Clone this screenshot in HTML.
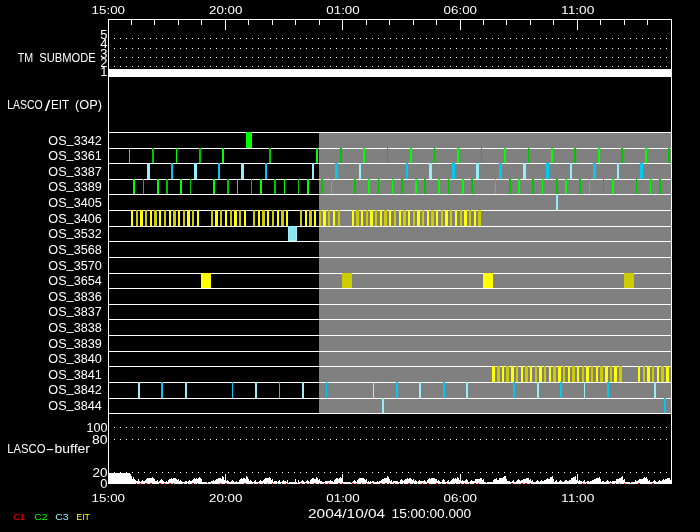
<!DOCTYPE html>
<html>
<head>
<meta charset="utf-8">
<title>LASCO/EIT schedule 2004/10/04</title>
<style>
html,body{margin:0;padding:0;background:#000;}
body{width:700px;height:532px;overflow:hidden;}
svg{display:block;}
text{font-family:"Liberation Sans",sans-serif;}
</style>
</head>
<body>
<svg width="700" height="532" viewBox="0 0 700 532">
<rect x="0" y="0" width="700" height="532" fill="#000"/>
<g shape-rendering="crispEdges">
<rect x="319" y="132" width="352" height="281" fill="#808080"/>
<rect x="109" y="69" width="562" height="8" fill="#fff"/>
<rect x="108" y="132" width="563" height="1" fill="#fff"/>
<rect x="108" y="148" width="563" height="1" fill="#fff"/>
<rect x="108" y="163" width="563" height="1" fill="#fff"/>
<rect x="108" y="179" width="563" height="1" fill="#fff"/>
<rect x="108" y="194" width="563" height="1" fill="#fff"/>
<rect x="108" y="210" width="563" height="1" fill="#fff"/>
<rect x="108" y="226" width="563" height="1" fill="#fff"/>
<rect x="108" y="241" width="563" height="1" fill="#fff"/>
<rect x="108" y="257" width="563" height="1" fill="#fff"/>
<rect x="108" y="273" width="563" height="1" fill="#fff"/>
<rect x="108" y="288" width="563" height="1" fill="#fff"/>
<rect x="108" y="304" width="563" height="1" fill="#fff"/>
<rect x="108" y="319" width="563" height="1" fill="#fff"/>
<rect x="108" y="335" width="563" height="1" fill="#fff"/>
<rect x="108" y="351" width="563" height="1" fill="#fff"/>
<rect x="108" y="366" width="563" height="1" fill="#fff"/>
<rect x="108" y="382" width="563" height="1" fill="#fff"/>
<rect x="108" y="398" width="563" height="1" fill="#fff"/>
<rect x="108" y="413" width="563" height="1" fill="#fff"/>
<rect x="108" y="19" width="1" height="465" fill="#fff"/>
<rect x="671" y="19" width="1" height="465" fill="#fff"/>
<rect x="108" y="19" width="564" height="1" fill="#fff"/>
<rect x="108" y="483" width="564" height="1" fill="#fff"/>
<rect x="131" y="19" width="1" height="6" fill="#fff"/>
<rect x="131" y="479" width="1" height="5" fill="#fff"/>
<rect x="154" y="19" width="1" height="6" fill="#fff"/>
<rect x="154" y="479" width="1" height="5" fill="#fff"/>
<rect x="178" y="19" width="1" height="6" fill="#fff"/>
<rect x="178" y="479" width="1" height="5" fill="#fff"/>
<rect x="201" y="19" width="1" height="6" fill="#fff"/>
<rect x="201" y="479" width="1" height="5" fill="#fff"/>
<rect x="225" y="19" width="1" height="11" fill="#fff"/>
<rect x="225" y="474" width="1" height="10" fill="#fff"/>
<rect x="248" y="19" width="1" height="6" fill="#fff"/>
<rect x="248" y="479" width="1" height="5" fill="#fff"/>
<rect x="272" y="19" width="1" height="6" fill="#fff"/>
<rect x="272" y="479" width="1" height="5" fill="#fff"/>
<rect x="295" y="19" width="1" height="6" fill="#fff"/>
<rect x="295" y="479" width="1" height="5" fill="#fff"/>
<rect x="319" y="19" width="1" height="6" fill="#fff"/>
<rect x="319" y="479" width="1" height="5" fill="#fff"/>
<rect x="342" y="19" width="1" height="11" fill="#fff"/>
<rect x="342" y="474" width="1" height="10" fill="#fff"/>
<rect x="366" y="19" width="1" height="6" fill="#fff"/>
<rect x="366" y="479" width="1" height="5" fill="#fff"/>
<rect x="389" y="19" width="1" height="6" fill="#fff"/>
<rect x="389" y="479" width="1" height="5" fill="#fff"/>
<rect x="413" y="19" width="1" height="6" fill="#fff"/>
<rect x="413" y="479" width="1" height="5" fill="#fff"/>
<rect x="436" y="19" width="1" height="6" fill="#fff"/>
<rect x="436" y="479" width="1" height="5" fill="#fff"/>
<rect x="460" y="19" width="1" height="11" fill="#fff"/>
<rect x="460" y="474" width="1" height="10" fill="#fff"/>
<rect x="483" y="19" width="1" height="6" fill="#fff"/>
<rect x="483" y="479" width="1" height="5" fill="#fff"/>
<rect x="506" y="19" width="1" height="6" fill="#fff"/>
<rect x="506" y="479" width="1" height="5" fill="#fff"/>
<rect x="530" y="19" width="1" height="6" fill="#fff"/>
<rect x="530" y="479" width="1" height="5" fill="#fff"/>
<rect x="553" y="19" width="1" height="6" fill="#fff"/>
<rect x="553" y="479" width="1" height="5" fill="#fff"/>
<rect x="577" y="19" width="1" height="11" fill="#fff"/>
<rect x="577" y="474" width="1" height="10" fill="#fff"/>
<rect x="600" y="19" width="1" height="6" fill="#fff"/>
<rect x="600" y="479" width="1" height="5" fill="#fff"/>
<rect x="624" y="19" width="1" height="6" fill="#fff"/>
<rect x="624" y="479" width="1" height="5" fill="#fff"/>
<rect x="647" y="19" width="1" height="6" fill="#fff"/>
<rect x="647" y="479" width="1" height="5" fill="#fff"/>
<path d="M114 38h1v1h-1zM120 38h1v1h-1zM126 38h1v1h-1zM132 38h1v1h-1zM138 38h1v1h-1zM144 38h1v1h-1zM150 38h1v1h-1zM156 38h1v1h-1zM162 38h1v1h-1zM168 38h1v1h-1zM174 38h1v1h-1zM180 38h1v1h-1zM186 38h1v1h-1zM192 38h1v1h-1zM198 38h1v1h-1zM204 38h1v1h-1zM210 38h1v1h-1zM216 38h1v1h-1zM222 38h1v1h-1zM228 38h1v1h-1zM234 38h1v1h-1zM240 38h1v1h-1zM246 38h1v1h-1zM252 38h1v1h-1zM258 38h1v1h-1zM264 38h1v1h-1zM270 38h1v1h-1zM276 38h1v1h-1zM282 38h1v1h-1zM288 38h1v1h-1zM294 38h1v1h-1zM300 38h1v1h-1zM306 38h1v1h-1zM312 38h1v1h-1zM318 38h1v1h-1zM324 38h1v1h-1zM330 38h1v1h-1zM336 38h1v1h-1zM342 38h1v1h-1zM348 38h1v1h-1zM354 38h1v1h-1zM360 38h1v1h-1zM366 38h1v1h-1zM372 38h1v1h-1zM378 38h1v1h-1zM384 38h1v1h-1zM390 38h1v1h-1zM396 38h1v1h-1zM402 38h1v1h-1zM408 38h1v1h-1zM414 38h1v1h-1zM420 38h1v1h-1zM426 38h1v1h-1zM432 38h1v1h-1zM438 38h1v1h-1zM444 38h1v1h-1zM450 38h1v1h-1zM456 38h1v1h-1zM462 38h1v1h-1zM468 38h1v1h-1zM474 38h1v1h-1zM480 38h1v1h-1zM486 38h1v1h-1zM492 38h1v1h-1zM498 38h1v1h-1zM504 38h1v1h-1zM510 38h1v1h-1zM516 38h1v1h-1zM522 38h1v1h-1zM528 38h1v1h-1zM534 38h1v1h-1zM540 38h1v1h-1zM546 38h1v1h-1zM552 38h1v1h-1zM558 38h1v1h-1zM564 38h1v1h-1zM570 38h1v1h-1zM576 38h1v1h-1zM582 38h1v1h-1zM588 38h1v1h-1zM594 38h1v1h-1zM600 38h1v1h-1zM606 38h1v1h-1zM612 38h1v1h-1zM618 38h1v1h-1zM624 38h1v1h-1zM630 38h1v1h-1zM636 38h1v1h-1zM642 38h1v1h-1zM648 38h1v1h-1zM654 38h1v1h-1zM660 38h1v1h-1zM666 38h1v1h-1z" fill="#fff"/>
<path d="M114 48h1v1h-1zM120 48h1v1h-1zM126 48h1v1h-1zM132 48h1v1h-1zM138 48h1v1h-1zM144 48h1v1h-1zM150 48h1v1h-1zM156 48h1v1h-1zM162 48h1v1h-1zM168 48h1v1h-1zM174 48h1v1h-1zM180 48h1v1h-1zM186 48h1v1h-1zM192 48h1v1h-1zM198 48h1v1h-1zM204 48h1v1h-1zM210 48h1v1h-1zM216 48h1v1h-1zM222 48h1v1h-1zM228 48h1v1h-1zM234 48h1v1h-1zM240 48h1v1h-1zM246 48h1v1h-1zM252 48h1v1h-1zM258 48h1v1h-1zM264 48h1v1h-1zM270 48h1v1h-1zM276 48h1v1h-1zM282 48h1v1h-1zM288 48h1v1h-1zM294 48h1v1h-1zM300 48h1v1h-1zM306 48h1v1h-1zM312 48h1v1h-1zM318 48h1v1h-1zM324 48h1v1h-1zM330 48h1v1h-1zM336 48h1v1h-1zM342 48h1v1h-1zM348 48h1v1h-1zM354 48h1v1h-1zM360 48h1v1h-1zM366 48h1v1h-1zM372 48h1v1h-1zM378 48h1v1h-1zM384 48h1v1h-1zM390 48h1v1h-1zM396 48h1v1h-1zM402 48h1v1h-1zM408 48h1v1h-1zM414 48h1v1h-1zM420 48h1v1h-1zM426 48h1v1h-1zM432 48h1v1h-1zM438 48h1v1h-1zM444 48h1v1h-1zM450 48h1v1h-1zM456 48h1v1h-1zM462 48h1v1h-1zM468 48h1v1h-1zM474 48h1v1h-1zM480 48h1v1h-1zM486 48h1v1h-1zM492 48h1v1h-1zM498 48h1v1h-1zM504 48h1v1h-1zM510 48h1v1h-1zM516 48h1v1h-1zM522 48h1v1h-1zM528 48h1v1h-1zM534 48h1v1h-1zM540 48h1v1h-1zM546 48h1v1h-1zM552 48h1v1h-1zM558 48h1v1h-1zM564 48h1v1h-1zM570 48h1v1h-1zM576 48h1v1h-1zM582 48h1v1h-1zM588 48h1v1h-1zM594 48h1v1h-1zM600 48h1v1h-1zM606 48h1v1h-1zM612 48h1v1h-1zM618 48h1v1h-1zM624 48h1v1h-1zM630 48h1v1h-1zM636 48h1v1h-1zM642 48h1v1h-1zM648 48h1v1h-1zM654 48h1v1h-1zM660 48h1v1h-1zM666 48h1v1h-1z" fill="#fff"/>
<path d="M114 57h1v1h-1zM120 57h1v1h-1zM126 57h1v1h-1zM132 57h1v1h-1zM138 57h1v1h-1zM144 57h1v1h-1zM150 57h1v1h-1zM156 57h1v1h-1zM162 57h1v1h-1zM168 57h1v1h-1zM174 57h1v1h-1zM180 57h1v1h-1zM186 57h1v1h-1zM192 57h1v1h-1zM198 57h1v1h-1zM204 57h1v1h-1zM210 57h1v1h-1zM216 57h1v1h-1zM222 57h1v1h-1zM228 57h1v1h-1zM234 57h1v1h-1zM240 57h1v1h-1zM246 57h1v1h-1zM252 57h1v1h-1zM258 57h1v1h-1zM264 57h1v1h-1zM270 57h1v1h-1zM276 57h1v1h-1zM282 57h1v1h-1zM288 57h1v1h-1zM294 57h1v1h-1zM300 57h1v1h-1zM306 57h1v1h-1zM312 57h1v1h-1zM318 57h1v1h-1zM324 57h1v1h-1zM330 57h1v1h-1zM336 57h1v1h-1zM342 57h1v1h-1zM348 57h1v1h-1zM354 57h1v1h-1zM360 57h1v1h-1zM366 57h1v1h-1zM372 57h1v1h-1zM378 57h1v1h-1zM384 57h1v1h-1zM390 57h1v1h-1zM396 57h1v1h-1zM402 57h1v1h-1zM408 57h1v1h-1zM414 57h1v1h-1zM420 57h1v1h-1zM426 57h1v1h-1zM432 57h1v1h-1zM438 57h1v1h-1zM444 57h1v1h-1zM450 57h1v1h-1zM456 57h1v1h-1zM462 57h1v1h-1zM468 57h1v1h-1zM474 57h1v1h-1zM480 57h1v1h-1zM486 57h1v1h-1zM492 57h1v1h-1zM498 57h1v1h-1zM504 57h1v1h-1zM510 57h1v1h-1zM516 57h1v1h-1zM522 57h1v1h-1zM528 57h1v1h-1zM534 57h1v1h-1zM540 57h1v1h-1zM546 57h1v1h-1zM552 57h1v1h-1zM558 57h1v1h-1zM564 57h1v1h-1zM570 57h1v1h-1zM576 57h1v1h-1zM582 57h1v1h-1zM588 57h1v1h-1zM594 57h1v1h-1zM600 57h1v1h-1zM606 57h1v1h-1zM612 57h1v1h-1zM618 57h1v1h-1zM624 57h1v1h-1zM630 57h1v1h-1zM636 57h1v1h-1zM642 57h1v1h-1zM648 57h1v1h-1zM654 57h1v1h-1zM660 57h1v1h-1zM666 57h1v1h-1z" fill="#fff"/>
<path d="M114 66h1v1h-1zM120 66h1v1h-1zM126 66h1v1h-1zM132 66h1v1h-1zM138 66h1v1h-1zM144 66h1v1h-1zM150 66h1v1h-1zM156 66h1v1h-1zM162 66h1v1h-1zM168 66h1v1h-1zM174 66h1v1h-1zM180 66h1v1h-1zM186 66h1v1h-1zM192 66h1v1h-1zM198 66h1v1h-1zM204 66h1v1h-1zM210 66h1v1h-1zM216 66h1v1h-1zM222 66h1v1h-1zM228 66h1v1h-1zM234 66h1v1h-1zM240 66h1v1h-1zM246 66h1v1h-1zM252 66h1v1h-1zM258 66h1v1h-1zM264 66h1v1h-1zM270 66h1v1h-1zM276 66h1v1h-1zM282 66h1v1h-1zM288 66h1v1h-1zM294 66h1v1h-1zM300 66h1v1h-1zM306 66h1v1h-1zM312 66h1v1h-1zM318 66h1v1h-1zM324 66h1v1h-1zM330 66h1v1h-1zM336 66h1v1h-1zM342 66h1v1h-1zM348 66h1v1h-1zM354 66h1v1h-1zM360 66h1v1h-1zM366 66h1v1h-1zM372 66h1v1h-1zM378 66h1v1h-1zM384 66h1v1h-1zM390 66h1v1h-1zM396 66h1v1h-1zM402 66h1v1h-1zM408 66h1v1h-1zM414 66h1v1h-1zM420 66h1v1h-1zM426 66h1v1h-1zM432 66h1v1h-1zM438 66h1v1h-1zM444 66h1v1h-1zM450 66h1v1h-1zM456 66h1v1h-1zM462 66h1v1h-1zM468 66h1v1h-1zM474 66h1v1h-1zM480 66h1v1h-1zM486 66h1v1h-1zM492 66h1v1h-1zM498 66h1v1h-1zM504 66h1v1h-1zM510 66h1v1h-1zM516 66h1v1h-1zM522 66h1v1h-1zM528 66h1v1h-1zM534 66h1v1h-1zM540 66h1v1h-1zM546 66h1v1h-1zM552 66h1v1h-1zM558 66h1v1h-1zM564 66h1v1h-1zM570 66h1v1h-1zM576 66h1v1h-1zM582 66h1v1h-1zM588 66h1v1h-1zM594 66h1v1h-1zM600 66h1v1h-1zM606 66h1v1h-1zM612 66h1v1h-1zM618 66h1v1h-1zM624 66h1v1h-1zM630 66h1v1h-1zM636 66h1v1h-1zM642 66h1v1h-1zM648 66h1v1h-1zM654 66h1v1h-1zM660 66h1v1h-1zM666 66h1v1h-1z" fill="#fff"/>
<path d="M114 427h1v1h-1zM120 427h1v1h-1zM126 427h1v1h-1zM132 427h1v1h-1zM138 427h1v1h-1zM144 427h1v1h-1zM150 427h1v1h-1zM156 427h1v1h-1zM162 427h1v1h-1zM168 427h1v1h-1zM174 427h1v1h-1zM180 427h1v1h-1zM186 427h1v1h-1zM192 427h1v1h-1zM198 427h1v1h-1zM204 427h1v1h-1zM210 427h1v1h-1zM216 427h1v1h-1zM222 427h1v1h-1zM228 427h1v1h-1zM234 427h1v1h-1zM240 427h1v1h-1zM246 427h1v1h-1zM252 427h1v1h-1zM258 427h1v1h-1zM264 427h1v1h-1zM270 427h1v1h-1zM276 427h1v1h-1zM282 427h1v1h-1zM288 427h1v1h-1zM294 427h1v1h-1zM300 427h1v1h-1zM306 427h1v1h-1zM312 427h1v1h-1zM318 427h1v1h-1zM324 427h1v1h-1zM330 427h1v1h-1zM336 427h1v1h-1zM342 427h1v1h-1zM348 427h1v1h-1zM354 427h1v1h-1zM360 427h1v1h-1zM366 427h1v1h-1zM372 427h1v1h-1zM378 427h1v1h-1zM384 427h1v1h-1zM390 427h1v1h-1zM396 427h1v1h-1zM402 427h1v1h-1zM408 427h1v1h-1zM414 427h1v1h-1zM420 427h1v1h-1zM426 427h1v1h-1zM432 427h1v1h-1zM438 427h1v1h-1zM444 427h1v1h-1zM450 427h1v1h-1zM456 427h1v1h-1zM462 427h1v1h-1zM468 427h1v1h-1zM474 427h1v1h-1zM480 427h1v1h-1zM486 427h1v1h-1zM492 427h1v1h-1zM498 427h1v1h-1zM504 427h1v1h-1zM510 427h1v1h-1zM516 427h1v1h-1zM522 427h1v1h-1zM528 427h1v1h-1zM534 427h1v1h-1zM540 427h1v1h-1zM546 427h1v1h-1zM552 427h1v1h-1zM558 427h1v1h-1zM564 427h1v1h-1zM570 427h1v1h-1zM576 427h1v1h-1zM582 427h1v1h-1zM588 427h1v1h-1zM594 427h1v1h-1zM600 427h1v1h-1zM606 427h1v1h-1zM612 427h1v1h-1zM618 427h1v1h-1zM624 427h1v1h-1zM630 427h1v1h-1zM636 427h1v1h-1zM642 427h1v1h-1zM648 427h1v1h-1zM654 427h1v1h-1zM660 427h1v1h-1zM666 427h1v1h-1z" fill="#fff"/>
<path d="M114 439h1v1h-1zM120 439h1v1h-1zM126 439h1v1h-1zM132 439h1v1h-1zM138 439h1v1h-1zM144 439h1v1h-1zM150 439h1v1h-1zM156 439h1v1h-1zM162 439h1v1h-1zM168 439h1v1h-1zM174 439h1v1h-1zM180 439h1v1h-1zM186 439h1v1h-1zM192 439h1v1h-1zM198 439h1v1h-1zM204 439h1v1h-1zM210 439h1v1h-1zM216 439h1v1h-1zM222 439h1v1h-1zM228 439h1v1h-1zM234 439h1v1h-1zM240 439h1v1h-1zM246 439h1v1h-1zM252 439h1v1h-1zM258 439h1v1h-1zM264 439h1v1h-1zM270 439h1v1h-1zM276 439h1v1h-1zM282 439h1v1h-1zM288 439h1v1h-1zM294 439h1v1h-1zM300 439h1v1h-1zM306 439h1v1h-1zM312 439h1v1h-1zM318 439h1v1h-1zM324 439h1v1h-1zM330 439h1v1h-1zM336 439h1v1h-1zM342 439h1v1h-1zM348 439h1v1h-1zM354 439h1v1h-1zM360 439h1v1h-1zM366 439h1v1h-1zM372 439h1v1h-1zM378 439h1v1h-1zM384 439h1v1h-1zM390 439h1v1h-1zM396 439h1v1h-1zM402 439h1v1h-1zM408 439h1v1h-1zM414 439h1v1h-1zM420 439h1v1h-1zM426 439h1v1h-1zM432 439h1v1h-1zM438 439h1v1h-1zM444 439h1v1h-1zM450 439h1v1h-1zM456 439h1v1h-1zM462 439h1v1h-1zM468 439h1v1h-1zM474 439h1v1h-1zM480 439h1v1h-1zM486 439h1v1h-1zM492 439h1v1h-1zM498 439h1v1h-1zM504 439h1v1h-1zM510 439h1v1h-1zM516 439h1v1h-1zM522 439h1v1h-1zM528 439h1v1h-1zM534 439h1v1h-1zM540 439h1v1h-1zM546 439h1v1h-1zM552 439h1v1h-1zM558 439h1v1h-1zM564 439h1v1h-1zM570 439h1v1h-1zM576 439h1v1h-1zM582 439h1v1h-1zM588 439h1v1h-1zM594 439h1v1h-1zM600 439h1v1h-1zM606 439h1v1h-1zM612 439h1v1h-1zM618 439h1v1h-1zM624 439h1v1h-1zM630 439h1v1h-1zM636 439h1v1h-1zM642 439h1v1h-1zM648 439h1v1h-1zM654 439h1v1h-1zM660 439h1v1h-1zM666 439h1v1h-1z" fill="#fff"/>
<path d="M114 472h1v1h-1zM120 472h1v1h-1zM126 472h1v1h-1zM132 472h1v1h-1zM138 472h1v1h-1zM144 472h1v1h-1zM150 472h1v1h-1zM156 472h1v1h-1zM162 472h1v1h-1zM168 472h1v1h-1zM174 472h1v1h-1zM180 472h1v1h-1zM186 472h1v1h-1zM192 472h1v1h-1zM198 472h1v1h-1zM204 472h1v1h-1zM210 472h1v1h-1zM216 472h1v1h-1zM222 472h1v1h-1zM228 472h1v1h-1zM234 472h1v1h-1zM240 472h1v1h-1zM246 472h1v1h-1zM252 472h1v1h-1zM258 472h1v1h-1zM264 472h1v1h-1zM270 472h1v1h-1zM276 472h1v1h-1zM282 472h1v1h-1zM288 472h1v1h-1zM294 472h1v1h-1zM300 472h1v1h-1zM306 472h1v1h-1zM312 472h1v1h-1zM318 472h1v1h-1zM324 472h1v1h-1zM330 472h1v1h-1zM336 472h1v1h-1zM342 472h1v1h-1zM348 472h1v1h-1zM354 472h1v1h-1zM360 472h1v1h-1zM366 472h1v1h-1zM372 472h1v1h-1zM378 472h1v1h-1zM384 472h1v1h-1zM390 472h1v1h-1zM396 472h1v1h-1zM402 472h1v1h-1zM408 472h1v1h-1zM414 472h1v1h-1zM420 472h1v1h-1zM426 472h1v1h-1zM432 472h1v1h-1zM438 472h1v1h-1zM444 472h1v1h-1zM450 472h1v1h-1zM456 472h1v1h-1zM462 472h1v1h-1zM468 472h1v1h-1zM474 472h1v1h-1zM480 472h1v1h-1zM486 472h1v1h-1zM492 472h1v1h-1zM498 472h1v1h-1zM504 472h1v1h-1zM510 472h1v1h-1zM516 472h1v1h-1zM522 472h1v1h-1zM528 472h1v1h-1zM534 472h1v1h-1zM540 472h1v1h-1zM546 472h1v1h-1zM552 472h1v1h-1zM558 472h1v1h-1zM564 472h1v1h-1zM570 472h1v1h-1zM576 472h1v1h-1zM582 472h1v1h-1zM588 472h1v1h-1zM594 472h1v1h-1zM600 472h1v1h-1zM606 472h1v1h-1zM612 472h1v1h-1zM618 472h1v1h-1zM624 472h1v1h-1zM630 472h1v1h-1zM636 472h1v1h-1zM642 472h1v1h-1zM648 472h1v1h-1zM654 472h1v1h-1zM660 472h1v1h-1zM666 472h1v1h-1z" fill="#fff"/>
<rect x="246" y="132" width="6" height="16" fill="#00ff00"/>
<rect x="129" y="148" width="1" height="15" fill="#00ff00"/>
<rect x="152" y="148" width="2" height="15" fill="#00c400"/>
<rect x="176" y="148" width="1" height="15" fill="#00ff00"/>
<rect x="199" y="148" width="2" height="15" fill="#00c400"/>
<rect x="222" y="148" width="2" height="15" fill="#00ff00"/>
<rect x="269" y="148" width="2" height="15" fill="#00c400"/>
<rect x="316" y="148" width="2" height="15" fill="#00ff00"/>
<rect x="340" y="148" width="2" height="15" fill="#00c400"/>
<rect x="363" y="148" width="2" height="15" fill="#00ff00"/>
<rect x="387" y="148" width="1" height="15" fill="#00c400"/>
<rect x="410" y="148" width="2" height="15" fill="#00ff00"/>
<rect x="434" y="148" width="1" height="15" fill="#00c400"/>
<rect x="457" y="148" width="2" height="15" fill="#00ff00"/>
<rect x="481" y="148" width="1" height="15" fill="#00c400"/>
<rect x="504" y="148" width="2" height="15" fill="#00ff00"/>
<rect x="528" y="148" width="1" height="15" fill="#00c400"/>
<rect x="551" y="148" width="2" height="15" fill="#00ff00"/>
<rect x="574" y="148" width="2" height="15" fill="#00c400"/>
<rect x="598" y="148" width="2" height="15" fill="#00ff00"/>
<rect x="621" y="148" width="2" height="15" fill="#00c400"/>
<rect x="645" y="148" width="2" height="15" fill="#00ff00"/>
<rect x="668" y="148" width="2" height="15" fill="#00c400"/>
<rect x="147" y="163" width="3" height="16" fill="#96eefb"/>
<rect x="171" y="163" width="2" height="16" fill="#00c8f0"/>
<rect x="194" y="163" width="3" height="16" fill="#96eefb"/>
<rect x="218" y="163" width="2" height="16" fill="#00c8f0"/>
<rect x="241" y="163" width="3" height="16" fill="#96eefb"/>
<rect x="265" y="163" width="2" height="16" fill="#00c8f0"/>
<rect x="312" y="163" width="2" height="16" fill="#96eefb"/>
<rect x="335" y="163" width="3" height="16" fill="#00c8f0"/>
<rect x="359" y="163" width="2" height="16" fill="#96eefb"/>
<rect x="406" y="163" width="2" height="16" fill="#00c8f0"/>
<rect x="429" y="163" width="3" height="16" fill="#96eefb"/>
<rect x="452" y="163" width="3" height="16" fill="#00c8f0"/>
<rect x="476" y="163" width="3" height="16" fill="#96eefb"/>
<rect x="499" y="163" width="3" height="16" fill="#00c8f0"/>
<rect x="523" y="163" width="3" height="16" fill="#96eefb"/>
<rect x="546" y="163" width="3" height="16" fill="#00c8f0"/>
<rect x="570" y="163" width="2" height="16" fill="#96eefb"/>
<rect x="593" y="163" width="3" height="16" fill="#00c8f0"/>
<rect x="617" y="163" width="2" height="16" fill="#96eefb"/>
<rect x="640" y="163" width="3" height="16" fill="#00c8f0"/>
<rect x="133" y="179" width="2" height="15" fill="#00ff00"/>
<rect x="143" y="179" width="1" height="15" fill="#00c400"/>
<rect x="157" y="179" width="2" height="15" fill="#00ff00"/>
<rect x="166" y="179" width="2" height="15" fill="#00c400"/>
<rect x="180" y="179" width="2" height="15" fill="#00ff00"/>
<rect x="190" y="179" width="1" height="15" fill="#00c400"/>
<rect x="213" y="179" width="2" height="15" fill="#00ff00"/>
<rect x="227" y="179" width="2" height="15" fill="#00c400"/>
<rect x="237" y="179" width="1" height="15" fill="#00ff00"/>
<rect x="251" y="179" width="1" height="15" fill="#00c400"/>
<rect x="260" y="179" width="2" height="15" fill="#00ff00"/>
<rect x="274" y="179" width="2" height="15" fill="#00c400"/>
<rect x="284" y="179" width="1" height="15" fill="#00ff00"/>
<rect x="298" y="179" width="1" height="15" fill="#00c400"/>
<rect x="307" y="179" width="2" height="15" fill="#00ff00"/>
<rect x="321" y="179" width="2" height="15" fill="#00c400"/>
<rect x="331" y="179" width="1" height="15" fill="#00ff00"/>
<rect x="354" y="179" width="2" height="15" fill="#00c400"/>
<rect x="368" y="179" width="2" height="15" fill="#00ff00"/>
<rect x="378" y="179" width="1" height="15" fill="#00c400"/>
<rect x="392" y="179" width="1" height="15" fill="#00ff00"/>
<rect x="401" y="179" width="2" height="15" fill="#00c400"/>
<rect x="415" y="179" width="2" height="15" fill="#00ff00"/>
<rect x="424" y="179" width="2" height="15" fill="#00c400"/>
<rect x="438" y="179" width="2" height="15" fill="#00ff00"/>
<rect x="448" y="179" width="1" height="15" fill="#00c400"/>
<rect x="462" y="179" width="2" height="15" fill="#00ff00"/>
<rect x="471" y="179" width="2" height="15" fill="#00c400"/>
<rect x="495" y="179" width="1" height="15" fill="#00ff00"/>
<rect x="509" y="179" width="2" height="15" fill="#00c400"/>
<rect x="518" y="179" width="2" height="15" fill="#00ff00"/>
<rect x="532" y="179" width="2" height="15" fill="#00c400"/>
<rect x="542" y="179" width="1" height="15" fill="#00ff00"/>
<rect x="556" y="179" width="2" height="15" fill="#00c400"/>
<rect x="565" y="179" width="2" height="15" fill="#00ff00"/>
<rect x="579" y="179" width="2" height="15" fill="#00c400"/>
<rect x="589" y="179" width="1" height="15" fill="#00ff00"/>
<rect x="603" y="179" width="1" height="15" fill="#00c400"/>
<rect x="612" y="179" width="2" height="15" fill="#00ff00"/>
<rect x="636" y="179" width="1" height="15" fill="#00c400"/>
<rect x="650" y="179" width="1" height="15" fill="#00ff00"/>
<rect x="659" y="179" width="2" height="15" fill="#00c400"/>
<rect x="556" y="194" width="2" height="16" fill="#96eefb"/>
<rect x="131" y="210" width="2" height="16" fill="#ffff00"/>
<rect x="136" y="210" width="2" height="16" fill="#cccc00"/>
<rect x="140" y="210" width="3" height="16" fill="#ffff00"/>
<rect x="145" y="210" width="2" height="16" fill="#cccc00"/>
<rect x="150" y="210" width="2" height="16" fill="#ffff00"/>
<rect x="154" y="210" width="3" height="16" fill="#cccc00"/>
<rect x="159" y="210" width="2" height="16" fill="#ffff00"/>
<rect x="164" y="210" width="2" height="16" fill="#cccc00"/>
<rect x="169" y="210" width="2" height="16" fill="#ffff00"/>
<rect x="173" y="210" width="3" height="16" fill="#cccc00"/>
<rect x="178" y="210" width="2" height="16" fill="#ffff00"/>
<rect x="183" y="210" width="2" height="16" fill="#cccc00"/>
<rect x="187" y="210" width="3" height="16" fill="#ffff00"/>
<rect x="192" y="210" width="2" height="16" fill="#cccc00"/>
<rect x="197" y="210" width="2" height="16" fill="#ffff00"/>
<rect x="211" y="210" width="2" height="16" fill="#cccc00"/>
<rect x="215" y="210" width="3" height="16" fill="#ffff00"/>
<rect x="220" y="210" width="2" height="16" fill="#cccc00"/>
<rect x="225" y="210" width="2" height="16" fill="#ffff00"/>
<rect x="230" y="210" width="2" height="16" fill="#cccc00"/>
<rect x="234" y="210" width="3" height="16" fill="#ffff00"/>
<rect x="239" y="210" width="2" height="16" fill="#cccc00"/>
<rect x="244" y="210" width="2" height="16" fill="#ffff00"/>
<rect x="253" y="210" width="2" height="16" fill="#cccc00"/>
<rect x="258" y="210" width="2" height="16" fill="#ffff00"/>
<rect x="262" y="210" width="3" height="16" fill="#cccc00"/>
<rect x="267" y="210" width="2" height="16" fill="#ffff00"/>
<rect x="272" y="210" width="2" height="16" fill="#cccc00"/>
<rect x="277" y="210" width="2" height="16" fill="#ffff00"/>
<rect x="281" y="210" width="3" height="16" fill="#cccc00"/>
<rect x="286" y="210" width="2" height="16" fill="#ffff00"/>
<rect x="300" y="210" width="2" height="16" fill="#cccc00"/>
<rect x="305" y="210" width="2" height="16" fill="#ffff00"/>
<rect x="309" y="210" width="3" height="16" fill="#cccc00"/>
<rect x="314" y="210" width="2" height="16" fill="#ffff00"/>
<rect x="319" y="210" width="2" height="16" fill="#cccc00"/>
<rect x="323" y="210" width="3" height="16" fill="#ffff00"/>
<rect x="328" y="210" width="2" height="16" fill="#cccc00"/>
<rect x="333" y="210" width="2" height="16" fill="#ffff00"/>
<rect x="338" y="210" width="2" height="16" fill="#cccc00"/>
<rect x="352" y="210" width="2" height="16" fill="#ffff00"/>
<rect x="356" y="210" width="3" height="16" fill="#cccc00"/>
<rect x="361" y="210" width="2" height="16" fill="#ffff00"/>
<rect x="366" y="210" width="2" height="16" fill="#cccc00"/>
<rect x="370" y="210" width="3" height="16" fill="#ffff00"/>
<rect x="375" y="210" width="2" height="16" fill="#cccc00"/>
<rect x="380" y="210" width="2" height="16" fill="#ffff00"/>
<rect x="384" y="210" width="3" height="16" fill="#cccc00"/>
<rect x="389" y="210" width="2" height="16" fill="#ffff00"/>
<rect x="394" y="210" width="2" height="16" fill="#cccc00"/>
<rect x="399" y="210" width="2" height="16" fill="#ffff00"/>
<rect x="403" y="210" width="3" height="16" fill="#cccc00"/>
<rect x="408" y="210" width="2" height="16" fill="#ffff00"/>
<rect x="413" y="210" width="2" height="16" fill="#cccc00"/>
<rect x="417" y="210" width="3" height="16" fill="#ffff00"/>
<rect x="422" y="210" width="2" height="16" fill="#cccc00"/>
<rect x="427" y="210" width="2" height="16" fill="#ffff00"/>
<rect x="431" y="210" width="3" height="16" fill="#cccc00"/>
<rect x="436" y="210" width="2" height="16" fill="#ffff00"/>
<rect x="441" y="210" width="2" height="16" fill="#cccc00"/>
<rect x="445" y="210" width="3" height="16" fill="#ffff00"/>
<rect x="450" y="210" width="2" height="16" fill="#cccc00"/>
<rect x="455" y="210" width="2" height="16" fill="#ffff00"/>
<rect x="460" y="210" width="2" height="16" fill="#cccc00"/>
<rect x="464" y="210" width="3" height="16" fill="#ffff00"/>
<rect x="469" y="210" width="2" height="16" fill="#cccc00"/>
<rect x="474" y="210" width="2" height="16" fill="#ffff00"/>
<rect x="478" y="210" width="3" height="16" fill="#cccc00"/>
<rect x="288" y="226" width="9" height="15" fill="#98f0fc"/>
<rect x="289" y="227" width="7" height="13" fill="#8ce4ee"/>
<rect x="201" y="273" width="10" height="15" fill="#ffff00"/>
<rect x="342" y="273" width="10" height="15" fill="#cccc00"/>
<rect x="483" y="273" width="10" height="15" fill="#ffff00"/>
<rect x="624" y="273" width="10" height="15" fill="#cccc00"/>
<rect x="492" y="366" width="3" height="16" fill="#ffff00"/>
<rect x="497" y="366" width="3" height="16" fill="#cccc00"/>
<rect x="502" y="366" width="2" height="16" fill="#ffff00"/>
<rect x="506" y="366" width="3" height="16" fill="#cccc00"/>
<rect x="511" y="366" width="3" height="16" fill="#ffff00"/>
<rect x="516" y="366" width="2" height="16" fill="#cccc00"/>
<rect x="521" y="366" width="2" height="16" fill="#ffff00"/>
<rect x="525" y="366" width="3" height="16" fill="#cccc00"/>
<rect x="530" y="366" width="2" height="16" fill="#ffff00"/>
<rect x="535" y="366" width="2" height="16" fill="#cccc00"/>
<rect x="539" y="366" width="3" height="16" fill="#ffff00"/>
<rect x="544" y="366" width="2" height="16" fill="#cccc00"/>
<rect x="549" y="366" width="2" height="16" fill="#ffff00"/>
<rect x="553" y="366" width="3" height="16" fill="#cccc00"/>
<rect x="558" y="366" width="3" height="16" fill="#ffff00"/>
<rect x="563" y="366" width="2" height="16" fill="#cccc00"/>
<rect x="568" y="366" width="2" height="16" fill="#ffff00"/>
<rect x="572" y="366" width="3" height="16" fill="#cccc00"/>
<rect x="577" y="366" width="2" height="16" fill="#ffff00"/>
<rect x="582" y="366" width="2" height="16" fill="#cccc00"/>
<rect x="586" y="366" width="3" height="16" fill="#ffff00"/>
<rect x="591" y="366" width="2" height="16" fill="#cccc00"/>
<rect x="596" y="366" width="2" height="16" fill="#ffff00"/>
<rect x="600" y="366" width="3" height="16" fill="#cccc00"/>
<rect x="605" y="366" width="3" height="16" fill="#ffff00"/>
<rect x="610" y="366" width="2" height="16" fill="#cccc00"/>
<rect x="614" y="366" width="3" height="16" fill="#ffff00"/>
<rect x="619" y="366" width="3" height="16" fill="#cccc00"/>
<rect x="638" y="366" width="2" height="16" fill="#ffff00"/>
<rect x="643" y="366" width="2" height="16" fill="#cccc00"/>
<rect x="647" y="366" width="3" height="16" fill="#ffff00"/>
<rect x="652" y="366" width="2" height="16" fill="#cccc00"/>
<rect x="657" y="366" width="2" height="16" fill="#ffff00"/>
<rect x="661" y="366" width="3" height="16" fill="#cccc00"/>
<rect x="666" y="366" width="3" height="16" fill="#ffff00"/>
<rect x="138" y="382" width="2" height="16" fill="#96eefb"/>
<rect x="161" y="382" width="2" height="16" fill="#00c8f0"/>
<rect x="185" y="382" width="2" height="16" fill="#96eefb"/>
<rect x="232" y="382" width="1" height="16" fill="#00c8f0"/>
<rect x="255" y="382" width="2" height="16" fill="#96eefb"/>
<rect x="279" y="382" width="1" height="16" fill="#00c8f0"/>
<rect x="302" y="382" width="2" height="16" fill="#96eefb"/>
<rect x="326" y="382" width="1" height="16" fill="#00c8f0"/>
<rect x="373" y="382" width="1" height="16" fill="#96eefb"/>
<rect x="396" y="382" width="2" height="16" fill="#00c8f0"/>
<rect x="419" y="382" width="2" height="16" fill="#96eefb"/>
<rect x="443" y="382" width="2" height="16" fill="#00c8f0"/>
<rect x="466" y="382" width="2" height="16" fill="#96eefb"/>
<rect x="513" y="382" width="2" height="16" fill="#00c8f0"/>
<rect x="537" y="382" width="2" height="16" fill="#96eefb"/>
<rect x="560" y="382" width="2" height="16" fill="#00c8f0"/>
<rect x="584" y="382" width="1" height="16" fill="#96eefb"/>
<rect x="607" y="382" width="2" height="16" fill="#00c8f0"/>
<rect x="654" y="382" width="2" height="16" fill="#96eefb"/>
<rect x="382" y="398" width="2" height="15" fill="#96eefb"/>
<rect x="664" y="398" width="2" height="15" fill="#00c8f0"/>
<path d="M109 484v-11h1v11zM110 484v-11h1v11zM111 484v-11h1v11zM112 484v-11h1v11zM113 484v-11h1v11zM114 484v-12h1v12zM115 484v-11h1v11zM116 484v-11h1v11zM117 484v-11h1v11zM118 484v-11h1v11zM119 484v-11h1v11zM120 484v-12h1v12zM121 484v-11h1v11zM122 484v-11h1v11zM123 484v-11h1v11zM124 484v-11h1v11zM125 484v-11h1v11zM126 484v-12h1v12zM127 484v-11h1v11zM128 484v-11h1v11zM129 484v-11h1v11zM130 484v-10h1v10zM131 484v-8h1v8zM132 484v-5h1v5zM133 484v-7h1v7zM134 484v-5h1v5zM135 484v-4h1v4zM136 484v-3h1v3zM137 484v-3h1v3zM138 484v-5h1v5zM139 484v-3h1v3zM140 484v-2h1v2zM141 484v-3h1v3zM142 484v-4h1v4zM143 484v-3h1v3zM144 484v-3h1v3zM145 484v-4h1v4zM146 484v-5h1v5zM147 484v-6h1v6zM148 484v-6h1v6zM149 484v-6h1v6zM150 484v-6h1v6zM151 484v-6h1v6zM152 484v-7h1v7zM153 484v-6h1v6zM154 484v-4h1v4zM155 484v-3h1v3zM156 484v-3h1v3zM157 484v-4h1v4zM158 484v-2h1v2zM159 484v-3h1v3zM160 484v-4h1v4zM161 484v-5h1v5zM162 484v-4h1v4zM163 484v-3h1v3zM164 484v-2h1v2zM165 484v-2h1v2zM166 484v-3h1v3zM167 484v-2h1v2zM168 484v-4h1v4zM169 484v-5h1v5zM170 484v-5h1v5zM171 484v-6h1v6zM172 484v-5h1v5zM173 484v-6h1v6zM174 484v-6h1v6zM175 484v-6h1v6zM176 484v-5h1v5zM177 484v-4h1v4zM178 484v-3h1v3zM179 484v-3h1v3zM180 484v-4h1v4zM181 484v-3h1v3zM182 484v-2h1v2zM183 484v-2h1v2zM184 484v-2h1v2zM185 484v-3h1v3zM186 484v-3h1v3zM187 484v-2h1v2zM188 484v-3h1v3zM189 484v-4h1v4zM190 484v-3h1v3zM191 484v-3h1v3zM192 484v-4h1v4zM193 484v-5h1v5zM194 484v-6h1v6zM195 484v-5h1v5zM196 484v-6h1v6zM197 484v-5h1v5zM198 484v-6h1v6zM199 484v-7h1v7zM200 484v-6h1v6zM201 484v-2h1v2zM202 484v-2h1v2zM203 484v-2h1v2zM204 484v-2h1v2zM205 484v-2h1v2zM206 484v-2h1v2zM207 484v-1h1v1zM208 484v-2h1v2zM209 484v-2h1v2zM210 484v-2h1v2zM211 484v-3h1v3zM212 484v-3h1v3zM213 484v-4h1v4zM214 484v-3h1v3zM215 484v-4h1v4zM216 484v-5h1v5zM217 484v-5h1v5zM218 484v-6h1v6zM219 484v-6h1v6zM220 484v-6h1v6zM221 484v-5h1v5zM222 484v-8h1v8zM223 484v-7h1v7zM224 484v-4h1v4zM225 484v-2h1v2zM226 484v-3h1v3zM227 484v-4h1v4zM228 484v-3h1v3zM229 484v-2h1v2zM230 484v-2h1v2zM231 484v-3h1v3zM232 484v-4h1v4zM233 484v-3h1v3zM234 484v-2h1v2zM235 484v-2h1v2zM236 484v-3h1v3zM237 484v-2h1v2zM238 484v-2h1v2zM239 484v-4h1v4zM240 484v-5h1v5zM241 484v-6h1v6zM242 484v-5h1v5zM243 484v-6h1v6zM244 484v-6h1v6zM245 484v-5h1v5zM246 484v-8h1v8zM247 484v-7h1v7zM248 484v-4h1v4zM249 484v-3h1v3zM250 484v-4h1v4zM251 484v-3h1v3zM252 484v-2h1v2zM253 484v-2h1v2zM254 484v-3h1v3zM255 484v-4h1v4zM256 484v-2h1v2zM257 484v-2h1v2zM258 484v-2h1v2zM259 484v-3h1v3zM260 484v-4h1v4zM261 484v-3h1v3zM262 484v-3h1v3zM263 484v-4h1v4zM264 484v-5h1v5zM265 484v-6h1v6zM266 484v-6h1v6zM267 484v-6h1v6zM268 484v-6h1v6zM269 484v-7h1v7zM270 484v-6h1v6zM271 484v-4h1v4zM272 484v-3h1v3zM273 484v-2h1v2zM274 484v-3h1v3zM275 484v-3h1v3zM276 484v-3h1v3zM277 484v-2h1v2zM278 484v-3h1v3zM279 484v-4h1v4zM280 484v-2h1v2zM281 484v-2h1v2zM282 484v-3h1v3zM283 484v-4h1v4zM284 484v-3h1v3zM285 484v-3h1v3zM286 484v-2h1v2zM287 484v-4h1v4zM288 484v-1h1v1zM289 484v-2h1v2zM290 484v-2h1v2zM291 484v-2h1v2zM292 484v-2h1v2zM293 484v-2h1v2zM294 484v-2h1v2zM295 484v-2h1v2zM296 484v-2h1v2zM297 484v-1h1v1zM298 484v-4h1v4zM299 484v-2h1v2zM300 484v-2h1v2zM301 484v-3h1v3zM302 484v-4h1v4zM303 484v-3h1v3zM304 484v-2h1v2zM305 484v-2h1v2zM306 484v-3h1v3zM307 484v-4h1v4zM308 484v-3h1v3zM309 484v-2h1v2zM310 484v-4h1v4zM311 484v-5h1v5zM312 484v-6h1v6zM313 484v-6h1v6zM314 484v-5h1v5zM315 484v-5h1v5zM316 484v-7h1v7zM317 484v-6h1v6zM318 484v-4h1v4zM319 484v-3h1v3zM320 484v-3h1v3zM321 484v-3h1v3zM322 484v-2h1v2zM323 484v-2h1v2zM324 484v-2h1v2zM325 484v-3h1v3zM326 484v-3h1v3zM327 484v-3h1v3zM328 484v-3h1v3zM329 484v-3h1v3zM330 484v-4h1v4zM331 484v-3h1v3zM332 484v-3h1v3zM333 484v-2h1v2zM334 484v-4h1v4zM335 484v-5h1v5zM336 484v-6h1v6zM337 484v-6h1v6zM338 484v-5h1v5zM339 484v-6h1v6zM340 484v-7h1v7zM341 484v-6h1v6zM342 484v-4h1v4zM343 484v-2h1v2zM344 484v-2h1v2zM345 484v-2h1v2zM346 484v-2h1v2zM347 484v-2h1v2zM348 484v-2h1v2zM349 484v-2h1v2zM350 484v-2h1v2zM351 484v-1h1v1zM352 484v-2h1v2zM353 484v-3h1v3zM354 484v-4h1v4zM355 484v-3h1v3zM356 484v-2h1v2zM357 484v-4h1v4zM358 484v-5h1v5zM359 484v-6h1v6zM360 484v-6h1v6zM361 484v-6h1v6zM362 484v-6h1v6zM363 484v-6h1v6zM364 484v-5h1v5zM365 484v-4h1v4zM366 484v-2h1v2zM367 484v-2h1v2zM368 484v-3h1v3zM369 484v-2h1v2zM370 484v-3h1v3zM371 484v-2h1v2zM372 484v-3h1v3zM373 484v-3h1v3zM374 484v-2h1v2zM375 484v-2h1v2zM376 484v-2h1v2zM377 484v-3h1v3zM378 484v-2h1v2zM379 484v-3h1v3zM380 484v-3h1v3zM381 484v-4h1v4zM382 484v-5h1v5zM383 484v-5h1v5zM384 484v-6h1v6zM385 484v-6h1v6zM386 484v-6h1v6zM387 484v-8h1v8zM388 484v-7h1v7zM389 484v-4h1v4zM390 484v-3h1v3zM391 484v-4h1v4zM392 484v-2h1v2zM393 484v-3h1v3zM394 484v-3h1v3zM395 484v-3h1v3zM396 484v-3h1v3zM397 484v-3h1v3zM398 484v-2h1v2zM399 484v-2h1v2zM400 484v-4h1v4zM401 484v-5h1v5zM402 484v-4h1v4zM403 484v-3h1v3zM404 484v-4h1v4zM405 484v-5h1v5zM406 484v-5h1v5zM407 484v-6h1v6zM408 484v-5h1v5zM409 484v-6h1v6zM410 484v-6h1v6zM411 484v-5h1v5zM412 484v-4h1v4zM413 484v-2h1v2zM414 484v-3h1v3zM415 484v-4h1v4zM416 484v-3h1v3zM417 484v-2h1v2zM418 484v-3h1v3zM419 484v-4h1v4zM420 484v-3h1v3zM421 484v-3h1v3zM422 484v-3h1v3zM423 484v-3h1v3zM424 484v-4h1v4zM425 484v-3h1v3zM426 484v-2h1v2zM427 484v-4h1v4zM428 484v-5h1v5zM429 484v-6h1v6zM430 484v-5h1v5zM431 484v-6h1v6zM432 484v-6h1v6zM433 484v-6h1v6zM434 484v-6h1v6zM435 484v-5h1v5zM436 484v-4h1v4zM437 484v-3h1v3zM438 484v-4h1v4zM439 484v-3h1v3zM440 484v-2h1v2zM441 484v-2h1v2zM442 484v-4h1v4zM443 484v-5h1v5zM444 484v-4h1v4zM445 484v-2h1v2zM446 484v-2h1v2zM447 484v-3h1v3zM448 484v-4h1v4zM449 484v-2h1v2zM450 484v-3h1v3zM451 484v-4h1v4zM452 484v-5h1v5zM453 484v-6h1v6zM454 484v-5h1v5zM455 484v-6h1v6zM456 484v-5h1v5zM457 484v-7h1v7zM458 484v-6h1v6zM459 484v-4h1v4zM460 484v-2h1v2zM461 484v-3h1v3zM462 484v-4h1v4zM463 484v-3h1v3zM464 484v-3h1v3zM465 484v-4h1v4zM466 484v-5h1v5zM467 484v-4h1v4zM468 484v-2h1v2zM469 484v-2h1v2zM470 484v-3h1v3zM471 484v-4h1v4zM472 484v-3h1v3zM473 484v-3h1v3zM474 484v-3h1v3zM475 484v-5h1v5zM476 484v-5h1v5zM477 484v-5h1v5zM478 484v-5h1v5zM479 484v-5h1v5zM480 484v-6h1v6zM481 484v-6h1v6zM482 484v-4h1v4zM483 484v-2h1v2zM484 484v-2h1v2zM485 484v-2h1v2zM486 484v-1h1v1zM487 484v-2h1v2zM488 484v-2h1v2zM489 484v-2h1v2zM490 484v-2h1v2zM491 484v-2h1v2zM492 484v-2h1v2zM493 484v-4h1v4zM494 484v-5h1v5zM495 484v-5h1v5zM496 484v-6h1v6zM497 484v-4h1v4zM498 484v-4h1v4zM499 484v-6h1v6zM500 484v-6h1v6zM501 484v-6h1v6zM502 484v-6h1v6zM503 484v-7h1v7zM504 484v-8h1v8zM505 484v-8h1v8zM506 484v-4h1v4zM507 484v-3h1v3zM508 484v-3h1v3zM509 484v-3h1v3zM510 484v-2h1v2zM511 484v-2h1v2zM512 484v-3h1v3zM513 484v-4h1v4zM514 484v-2h1v2zM515 484v-2h1v2zM516 484v-3h1v3zM517 484v-4h1v4zM518 484v-5h1v5zM519 484v-4h1v4zM520 484v-3h1v3zM521 484v-4h1v4zM522 484v-4h1v4zM523 484v-5h1v5zM524 484v-5h1v5zM525 484v-5h1v5zM526 484v-6h1v6zM527 484v-6h1v6zM528 484v-6h1v6zM529 484v-4h1v4zM530 484v-3h1v3zM531 484v-3h1v3zM532 484v-4h1v4zM533 484v-2h1v2zM534 484v-2h1v2zM535 484v-2h1v2zM536 484v-3h1v3zM537 484v-4h1v4zM538 484v-3h1v3zM539 484v-2h1v2zM540 484v-3h1v3zM541 484v-4h1v4zM542 484v-3h1v3zM543 484v-3h1v3zM544 484v-4h1v4zM545 484v-4h1v4zM546 484v-5h1v5zM547 484v-6h1v6zM548 484v-5h1v5zM549 484v-5h1v5zM550 484v-7h1v7zM551 484v-7h1v7zM552 484v-8h1v8zM553 484v-4h1v4zM554 484v-2h1v2zM555 484v-3h1v3zM556 484v-4h1v4zM557 484v-2h1v2zM558 484v-2h1v2zM559 484v-3h1v3zM560 484v-4h1v4zM561 484v-3h1v3zM562 484v-2h1v2zM563 484v-2h1v2zM564 484v-3h1v3zM565 484v-4h1v4zM566 484v-4h1v4zM567 484v-3h1v3zM568 484v-3h1v3zM569 484v-4h1v4zM570 484v-4h1v4zM571 484v-6h1v6zM572 484v-6h1v6zM573 484v-7h1v7zM574 484v-7h1v7zM575 484v-8h1v8zM576 484v-4h1v4zM577 484v-3h1v3zM578 484v-3h1v3zM579 484v-4h1v4zM580 484v-3h1v3zM581 484v-3h1v3zM582 484v-2h1v2zM583 484v-3h1v3zM584 484v-4h1v4zM585 484v-2h1v2zM586 484v-2h1v2zM587 484v-3h1v3zM588 484v-3h1v3zM589 484v-2h1v2zM590 484v-3h1v3zM591 484v-3h1v3zM592 484v-4h1v4zM593 484v-4h1v4zM594 484v-5h1v5zM595 484v-5h1v5zM596 484v-6h1v6zM597 484v-6h1v6zM598 484v-6h1v6zM599 484v-7h1v7zM600 484v-4h1v4zM601 484v-2h1v2zM602 484v-3h1v3zM603 484v-3h1v3zM604 484v-2h1v2zM605 484v-2h1v2zM606 484v-3h1v3zM607 484v-4h1v4zM608 484v-3h1v3zM609 484v-2h1v2zM610 484v-3h1v3zM611 484v-2h1v2zM612 484v-3h1v3zM613 484v-3h1v3zM614 484v-3h1v3zM615 484v-3h1v3zM616 484v-5h1v5zM617 484v-5h1v5zM618 484v-5h1v5zM619 484v-6h1v6zM620 484v-6h1v6zM621 484v-7h1v7zM622 484v-8h1v8zM623 484v-4h1v4zM624 484v-2h1v2zM625 484v-2h1v2zM626 484v-2h1v2zM627 484v-2h1v2zM628 484v-2h1v2zM629 484v-2h1v2zM630 484v-1h1v1zM631 484v-2h1v2zM632 484v-2h1v2zM633 484v-2h1v2zM634 484v-2h1v2zM635 484v-4h1v4zM636 484v-3h1v3zM637 484v-3h1v3zM638 484v-4h1v4zM639 484v-5h1v5zM640 484v-5h1v5zM641 484v-5h1v5zM642 484v-5h1v5zM643 484v-6h1v6zM644 484v-7h1v7zM645 484v-6h1v6zM646 484v-7h1v7zM647 484v-4h1v4zM648 484v-3h1v3zM649 484v-4h1v4zM650 484v-2h1v2zM651 484v-2h1v2zM652 484v-2h1v2zM653 484v-3h1v3zM654 484v-4h1v4zM655 484v-3h1v3zM656 484v-2h1v2zM657 484v-2h1v2zM658 484v-3h1v3zM659 484v-4h1v4zM660 484v-3h1v3zM661 484v-3h1v3zM662 484v-4h1v4zM663 484v-5h1v5zM664 484v-4h1v4zM665 484v-5h1v5zM666 484v-5h1v5zM667 484v-6h1v6zM668 484v-6h1v6zM669 484v-6h1v6zM670 484v-4h1v4z" fill="#fff"/>
<path d="M136 483h1v1H136zM140 483h1v1H140zM145 483h2v1H145zM150 483h2v1H150zM159 483h2v1H159zM164 483h1v1H164zM169 483h2v1H169zM173 483h1v1H173zM183 483h1v1H183zM187 483h1v1H187zM192 483h2v1H192zM197 483h1v1H197zM211 483h1v1H211zM220 483h1v1H220zM225 483h2v1H225zM244 483h2v1H244zM253 483h1v1H253zM258 483h1v1H258zM263 483h1v1H263zM267 483h1v1H267zM272 483h1v1H272zM277 483h1v1H277zM281 483h1v1H281zM286 483h1v1H286zM300 483h2v1H300zM305 483h2v1H305zM309 483h1v1H309zM314 483h2v1H314zM319 483h1v1H319zM324 483h1v1H324zM328 483h1v1H328zM338 483h2v1H338zM342 483h1v1H342zM352 483h2v1H352zM356 483h1v1H356zM361 483h1v1H361zM366 483h1v1H366zM371 483h2v1H371zM380 483h2v1H380zM385 483h2v1H385zM389 483h1v1H389zM394 483h1v1H394zM399 483h1v1H399zM403 483h1v1H403zM408 483h2v1H408zM413 483h1v1H413zM417 483h1v1H417zM422 483h1v1H422zM427 483h2v1H427zM436 483h2v1H436zM441 483h1v1H441zM446 483h1v1H446zM455 483h1v1H455zM460 483h1v1H460zM464 483h1v1H464zM469 483h1v1H469zM474 483h2v1H474zM478 483h1v1H478zM511 483h2v1H511zM521 483h2v1H521zM525 483h2v1H525zM530 483h1v1H530zM577 483h1v1H577zM582 483h1v1H582zM586 483h1v1H586zM610 483h2v1H610zM615 483h1v1H615zM619 483h1v1H619zM624 483h1v1H624zM638 483h2v1H638zM652 483h2v1H652z" fill="#ff0000"/>
</g>
<defs><filter id="f" x="0" y="0" width="100%" height="100%" filterUnits="userSpaceOnUse" color-interpolation-filters="sRGB"><feOffset dx="0" dy="0"/></filter></defs>
<g filter="url(#f)">
<text x="91.6" y="14" font-size="11.8" fill="#fff" textLength="33.4" lengthAdjust="spacingAndGlyphs">15:00</text>
<text x="91.6" y="502" font-size="11.8" fill="#fff" textLength="33.4" lengthAdjust="spacingAndGlyphs">15:00</text>
<text x="209.0" y="14" font-size="11.8" fill="#fff" textLength="33.4" lengthAdjust="spacingAndGlyphs">20:00</text>
<text x="209.0" y="502" font-size="11.8" fill="#fff" textLength="33.4" lengthAdjust="spacingAndGlyphs">20:00</text>
<text x="326.3" y="14" font-size="11.8" fill="#fff" textLength="33.4" lengthAdjust="spacingAndGlyphs">01:00</text>
<text x="326.3" y="502" font-size="11.8" fill="#fff" textLength="33.4" lengthAdjust="spacingAndGlyphs">01:00</text>
<text x="443.6" y="14" font-size="11.8" fill="#fff" textLength="33.4" lengthAdjust="spacingAndGlyphs">06:00</text>
<text x="443.6" y="502" font-size="11.8" fill="#fff" textLength="33.4" lengthAdjust="spacingAndGlyphs">06:00</text>
<text x="561.0" y="14" font-size="11.8" fill="#fff" textLength="33.4" lengthAdjust="spacingAndGlyphs">11:00</text>
<text x="561.0" y="502" font-size="11.8" fill="#fff" textLength="33.4" lengthAdjust="spacingAndGlyphs">11:00</text>
<text x="308.0" y="518" font-size="12.3" fill="#fff" textLength="77.2" lengthAdjust="spacingAndGlyphs">2004/10/04</text>
<text x="391.6" y="518" font-size="12.3" fill="#fff" textLength="79.6" lengthAdjust="spacingAndGlyphs">15:00:00.000</text>
<text x="17.8" y="62" font-size="12.3" fill="#fff" textLength="15.4" lengthAdjust="spacingAndGlyphs">TM</text>
<text x="39.3" y="62" font-size="12.3" fill="#fff" textLength="56.4" lengthAdjust="spacingAndGlyphs">SUBMODE</text>
<text x="7.2" y="109" font-size="12.3" fill="#fff" textLength="35.5" lengthAdjust="spacingAndGlyphs">LASCO</text>
<text x="47.6" y="110.5" font-size="15" fill="#fff" text-anchor="middle" textLength="5.6" lengthAdjust="spacingAndGlyphs">/</text>
<text x="51.0" y="109" font-size="12.3" fill="#fff" textLength="18.2" lengthAdjust="spacingAndGlyphs">EIT</text>
<text x="75.0" y="109" font-size="12.3" fill="#fff" textLength="27.0" lengthAdjust="spacingAndGlyphs">(OP)</text>
<text x="48.3" y="145" font-size="12.3" fill="#fff" textLength="53.5" lengthAdjust="spacingAndGlyphs">OS<tspan dy="-2.4">_</tspan><tspan dy="2.4">3342</tspan></text>
<text x="48.3" y="160" font-size="12.3" fill="#fff" textLength="53.5" lengthAdjust="spacingAndGlyphs">OS<tspan dy="-2.4">_</tspan><tspan dy="2.4">3361</tspan></text>
<text x="48.3" y="176" font-size="12.3" fill="#fff" textLength="53.5" lengthAdjust="spacingAndGlyphs">OS<tspan dy="-2.4">_</tspan><tspan dy="2.4">3387</tspan></text>
<text x="48.3" y="191" font-size="12.3" fill="#fff" textLength="53.5" lengthAdjust="spacingAndGlyphs">OS<tspan dy="-2.4">_</tspan><tspan dy="2.4">3389</tspan></text>
<text x="48.3" y="207" font-size="12.3" fill="#fff" textLength="53.5" lengthAdjust="spacingAndGlyphs">OS<tspan dy="-2.4">_</tspan><tspan dy="2.4">3405</tspan></text>
<text x="48.3" y="223" font-size="12.3" fill="#fff" textLength="53.5" lengthAdjust="spacingAndGlyphs">OS<tspan dy="-2.4">_</tspan><tspan dy="2.4">3406</tspan></text>
<text x="48.3" y="238" font-size="12.3" fill="#fff" textLength="53.5" lengthAdjust="spacingAndGlyphs">OS<tspan dy="-2.4">_</tspan><tspan dy="2.4">3532</tspan></text>
<text x="48.3" y="254" font-size="12.3" fill="#fff" textLength="53.5" lengthAdjust="spacingAndGlyphs">OS<tspan dy="-2.4">_</tspan><tspan dy="2.4">3568</tspan></text>
<text x="48.3" y="270" font-size="12.3" fill="#fff" textLength="53.5" lengthAdjust="spacingAndGlyphs">OS<tspan dy="-2.4">_</tspan><tspan dy="2.4">3570</tspan></text>
<text x="48.3" y="285" font-size="12.3" fill="#fff" textLength="53.5" lengthAdjust="spacingAndGlyphs">OS<tspan dy="-2.4">_</tspan><tspan dy="2.4">3654</tspan></text>
<text x="48.3" y="301" font-size="12.3" fill="#fff" textLength="53.5" lengthAdjust="spacingAndGlyphs">OS<tspan dy="-2.4">_</tspan><tspan dy="2.4">3836</tspan></text>
<text x="48.3" y="316" font-size="12.3" fill="#fff" textLength="53.5" lengthAdjust="spacingAndGlyphs">OS<tspan dy="-2.4">_</tspan><tspan dy="2.4">3837</tspan></text>
<text x="48.3" y="332" font-size="12.3" fill="#fff" textLength="53.5" lengthAdjust="spacingAndGlyphs">OS<tspan dy="-2.4">_</tspan><tspan dy="2.4">3838</tspan></text>
<text x="48.3" y="348" font-size="12.3" fill="#fff" textLength="53.5" lengthAdjust="spacingAndGlyphs">OS<tspan dy="-2.4">_</tspan><tspan dy="2.4">3839</tspan></text>
<text x="48.3" y="363" font-size="12.3" fill="#fff" textLength="53.5" lengthAdjust="spacingAndGlyphs">OS<tspan dy="-2.4">_</tspan><tspan dy="2.4">3840</tspan></text>
<text x="48.3" y="379" font-size="12.3" fill="#fff" textLength="53.5" lengthAdjust="spacingAndGlyphs">OS<tspan dy="-2.4">_</tspan><tspan dy="2.4">3841</tspan></text>
<text x="48.3" y="394" font-size="12.3" fill="#fff" textLength="53.5" lengthAdjust="spacingAndGlyphs">OS<tspan dy="-2.4">_</tspan><tspan dy="2.4">3842</tspan></text>
<text x="48.3" y="410" font-size="12.3" fill="#fff" textLength="53.5" lengthAdjust="spacingAndGlyphs">OS<tspan dy="-2.4">_</tspan><tspan dy="2.4">3844</tspan></text>
<text x="7.2" y="453" font-size="12.3" fill="#fff" textLength="38.3" lengthAdjust="spacingAndGlyphs">LASCO</text>
<text x="45.6" y="453" font-size="12.3" fill="#fff" textLength="8.8" lengthAdjust="spacingAndGlyphs">-</text>
<text x="54.5" y="453" font-size="12.3" fill="#fff" textLength="35.5" lengthAdjust="spacingAndGlyphs">buffer</text>
<text x="86.5" y="432" font-size="12.3" fill="#fff" textLength="21.0" lengthAdjust="spacingAndGlyphs">100</text>
<text x="92.0" y="444" font-size="12.3" fill="#fff" textLength="15.5" lengthAdjust="spacingAndGlyphs">80</text>
<text x="92.5" y="477" font-size="12.3" fill="#fff" textLength="15.0" lengthAdjust="spacingAndGlyphs">20</text>
<text x="100.3" y="488" font-size="12.3" fill="#fff" textLength="7.2" lengthAdjust="spacingAndGlyphs">0</text>
<text x="100.3" y="76" font-size="12.3" fill="#fff" textLength="7.2" lengthAdjust="spacingAndGlyphs">1</text>
<text x="100.3" y="67" font-size="12.3" fill="#fff" textLength="7.2" lengthAdjust="spacingAndGlyphs">2</text>
<text x="100.3" y="57.5" font-size="12.3" fill="#fff" textLength="7.2" lengthAdjust="spacingAndGlyphs">3</text>
<text x="100.3" y="48" font-size="12.3" fill="#fff" textLength="7.2" lengthAdjust="spacingAndGlyphs">4</text>
<text x="100.3" y="39" font-size="12.3" fill="#fff" textLength="7.2" lengthAdjust="spacingAndGlyphs">5</text>
<text x="13.2" y="520" font-size="9.3" fill="#ff0000" textLength="11.8" lengthAdjust="spacingAndGlyphs">C1</text>
<text x="34.3" y="520" font-size="9.3" fill="#00ff00" textLength="13.3" lengthAdjust="spacingAndGlyphs">C2</text>
<text x="55.2" y="520" font-size="9.3" fill="#96eefb" textLength="13.5" lengthAdjust="spacingAndGlyphs">C3</text>
<text x="76.3" y="520" font-size="9.3" fill="#ffff00" textLength="13.7" lengthAdjust="spacingAndGlyphs">EIT</text>
</g>
</svg>
</body>
</html>
